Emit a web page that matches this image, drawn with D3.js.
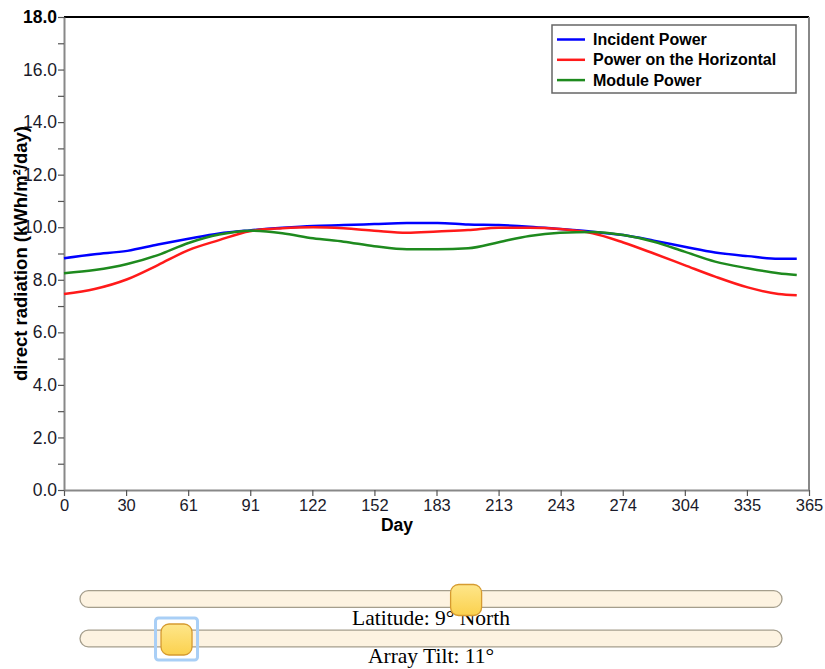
<!DOCTYPE html>
<html>
<head>
<meta charset="utf-8">
<script src="https://cdn.jsdelivr.net/npm/d3@7"></script>
<style>
  body { margin: 0; background: #fff; }
  svg { display: block; }
</style>
</head>
<body>
<svg id="chart" width="825" height="669"></svg>
<script>
// day of year for each sample
const days = [0, 15, 31, 46, 61, 76, 91, 107, 122, 137, 152, 168, 183, 198, 213, 228, 243, 259, 274, 289, 304, 319, 335, 350, 359];

const incident = [8.82, 8.97, 9.1, 9.34, 9.56, 9.76, 9.88, 9.98, 10.05, 10.08, 10.12, 10.16, 10.16, 10.1, 10.08, 10.02, 9.93, 9.83, 9.7, 9.49, 9.26, 9.04, 8.9, 8.8, 8.8];
const horizontal = [7.46, 7.65, 8.02, 8.56, 9.13, 9.51, 9.85, 9.96, 10.0, 9.96, 9.87, 9.79, 9.84, 9.89, 9.98, 9.98, 9.93, 9.77, 9.42, 9.0, 8.56, 8.12, 7.71, 7.46, 7.41];
const module = [8.25, 8.37, 8.6, 8.94, 9.4, 9.72, 9.87, 9.77, 9.58, 9.45, 9.28, 9.16, 9.16, 9.2, 9.43, 9.67, 9.79, 9.82, 9.7, 9.45, 9.07, 8.69, 8.44, 8.25, 8.18];

const seriesNames = ["Incident Power", "Power on the Horizontal", "Module Power"];
const seriesColors = ["#0000ff", "#ff1a1a", "#1e8a1e"];

const xTickLabels = [0, 30, 61, 91, 122, 152, 183, 213, 243, 274, 304, 335, 365];
const yTickLabels = ["0.0", "", "2.0", "", "4.0", "", "6.0", "", "8.0", "", "10.0", "", "12.0", "", "14.0", "", "16.0", "", "18.0"];

const latitude = 9, tilt = 11;

var svg = d3.select("#chart");
var plotLeft = 64, plotRight = 809, plotTop = 17, plotBottom = 490;

var x = d3.scaleLinear().domain([0, 365]).range([plotLeft, plotRight]);
var y = d3.scaleLinear().domain([0, 18]).range([plotBottom, plotTop]);

// frame: black top, gray right
svg.append("line")
  .attr("x1", plotLeft).attr("x2", plotRight).attr("y1", plotTop).attr("y2", plotTop)
  .attr("stroke", "#000").attr("stroke-width", 2);
svg.append("line")
  .attr("x1", plotRight).attr("x2", plotRight).attr("y1", plotTop).attr("y2", plotBottom)
  .attr("stroke", "#888").attr("stroke-width", 2);

// ticks are spaced by twelfths of the year, labelled with rounded days
var xAxis = d3.axisBottom(x)
  .tickValues(xTickLabels.map(function (d, i) { return i * 365 / 12; }))
  .tickFormat(function (d, i) { return xTickLabels[i]; })
  .tickSize(6).tickPadding(3).tickSizeOuter(0);
var gx = svg.append("g").attr("transform", "translate(0," + plotBottom + ")").call(xAxis);

var yAxis = d3.axisLeft(y)
  .tickValues(yTickLabels.map(function (d, i) { return i; }))
  .tickFormat(function (d, i) { return yTickLabels[i]; })
  .tickSize(6).tickPadding(1).tickSizeOuter(0);
var gy = svg.append("g").attr("transform", "translate(" + plotLeft + ",0)").call(yAxis);

[gx, gy].forEach(function (g) {
  g.select(".domain").attr("stroke", "#888").attr("stroke-width", 2);
  g.selectAll(".tick line").attr("stroke", "#555").attr("stroke-width", 1.2);
  g.selectAll(".tick text")
    .attr("fill", "#1a1a2a")
    .style("font-family", "Liberation Sans, Arial, sans-serif");
});
gx.selectAll(".tick text").style("font-size", "16.5px");
gy.selectAll(".tick text").style("font-size", "17.5px");
gy.selectAll(".tick text").filter(function (d) { return d === 18; })
  .attr("fill", "#000").style("font-weight", "bold");

// axis titles
svg.append("text")
  .attr("x", 397).attr("y", 531)
  .attr("text-anchor", "middle")
  .style("font-family", "Liberation Sans, Arial, sans-serif")
  .style("font-size", "17.5px").style("font-weight", "bold")
  .text("Day");
svg.append("text")
  .attr("transform", "translate(27," + ((plotTop + plotBottom) / 2) + ") rotate(-90)")
  .attr("text-anchor", "middle")
  .style("font-family", "Liberation Sans, Arial, sans-serif")
  .style("font-size", "18.5px").style("font-weight", "bold")
  .text("direct radiation (kWh/m²/day)");

// curves
var line = d3.line()
  .x(function (d) { return x(d[0]); })
  .y(function (d) { return y(d[1]); })
  .curve(d3.curveMonotoneX);

[incident, horizontal, module].forEach(function (vals, i) {
  svg.append("path")
    .datum(days.map(function (d, j) { return [d, vals[j]]; }))
    .attr("fill", "none")
    .attr("stroke", seriesColors[i])
    .attr("stroke-width", 2.5)
    .attr("d", line);
});

// legend
var legend = svg.append("g").attr("transform", "translate(552,25)");
legend.append("rect")
  .attr("width", 244).attr("height", 68)
  .attr("fill", "#fff").attr("stroke", "#666").attr("stroke-width", 1.5);
var item = legend.selectAll(".item").data(seriesNames).enter().append("g")
  .attr("transform", function (d, i) { return "translate(0," + (14.5 + i * 20.3) + ")"; });
item.append("line")
  .attr("x1", 5).attr("x2", 33)
  .attr("stroke", function (d, i) { return seriesColors[i]; })
  .attr("stroke-width", 2.5);
item.append("text")
  .attr("x", 41).attr("dy", "0.35em")
  .style("font-family", "Liberation Sans, Arial, sans-serif")
  .style("font-size", "16px").style("font-weight", "bold")
  .text(function (d) { return d; });

// sliders
var defs = svg.append("defs");
var grad = defs.append("linearGradient").attr("id", "knob").attr("x1", 0).attr("x2", 0).attr("y1", 0).attr("y2", 1);
grad.append("stop").attr("offset", "0%").attr("stop-color", "#fee68a");
grad.append("stop").attr("offset", "100%").attr("stop-color", "#fbd14e");

var sliders = [
  { label: "Latitude: " + latitude + "° North", domain: [-90, 90], value: latitude, cy: 599, ty: 625, focus: false },
  { label: "Array Tilt: " + tilt + "°", domain: [0, 80], value: tilt, cy: 638.5, ty: 663, focus: true }
];

sliders.forEach(function (s) {
  var sx = d3.scaleLinear().domain(s.domain).range([80, 782]);
  var g = svg.append("g");
  g.append("rect")
    .attr("x", 80).attr("y", s.cy - 8.3).attr("width", 702).attr("height", 16.6)
    .attr("rx", 8.3)
    .attr("fill", "#fdf3e1").attr("stroke", "#a59e8c").attr("stroke-width", 1.3);
  g.append("text")
    .attr("x", 431).attr("y", s.ty)
    .attr("text-anchor", "middle")
    .style("font-family", "Liberation Serif, Times New Roman, serif")
    .style("font-size", "21.5px")
    .text(s.label);
  s.g = g; s.sx = sx;
});

sliders.forEach(function (s) {
  var cx = s.sx(s.value);
  if (s.focus) {
    s.g.append("rect")
      .attr("x", cx - 21).attr("y", s.cy - 20.5).attr("width", 42).attr("height", 42)
      .attr("rx", 3)
      .attr("fill", "none").attr("stroke", "#a9cff6").attr("stroke-width", 3);
  }
  s.g.append("rect")
    .attr("x", cx - 15.5).attr("y", s.cy - 14.5).attr("width", 31).attr("height", 31)
    .attr("rx", 8)
    .attr("fill", "url(#knob)").attr("stroke", "#d69b30").attr("stroke-width", 1.3);
});
</script>
</body>
</html>
